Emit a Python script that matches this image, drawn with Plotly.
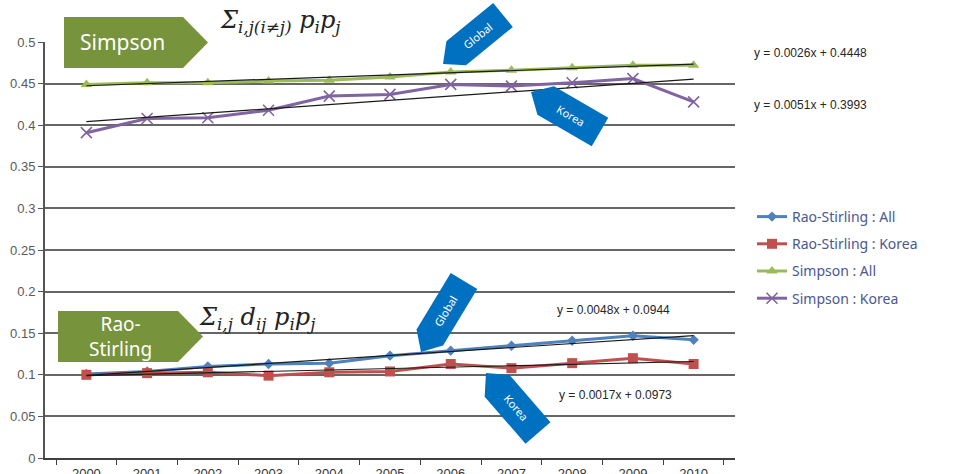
import math
import plotly.graph_objects as go

# ---------------- data ----------------
years = [str(y) for y in range(2000, 2011)]
rao_all = [0.101, 0.104, 0.110, 0.113, 0.114, 0.123, 0.129, 0.135, 0.141, 0.147, 0.142]
rao_korea = [0.100, 0.102, 0.103, 0.099, 0.103, 0.104, 0.113, 0.108, 0.114, 0.120, 0.113]
simpson_all = [0.449, 0.451, 0.451, 0.453, 0.454, 0.458, 0.464, 0.466, 0.469, 0.472, 0.472]
simpson_korea = [0.391, 0.408, 0.409, 0.418, 0.435, 0.437, 0.449, 0.447, 0.451, 0.456, 0.428]

series_names = ["Rao-Stirling : All", "Rao-Stirling : Korea", "Simpson : All", "Simpson : Korea"]
trend_slope = [0.0048, 0.0017, 0.0026, 0.0051]
trend_icept = [0.0944, 0.0973, 0.4448, 0.3993]
trend_labels = ["y = 0.0048x + 0.0944", "y = 0.0017x + 0.0973",
                "y = 0.0026x + 0.4448", "y = 0.0051x + 0.3993"]
y_ticks = [0, 0.05, 0.1, 0.15, 0.2, 0.25, 0.3, 0.35, 0.4, 0.45, 0.5]
y_ticklabels = ["0", "0.05", "0.1", "0.15", "0.2", "0.25", "0.3", "0.35", "0.4", "0.45", "0.5"]

# ---------------- layout geometry (pixels) ----------------
W, H = 959, 474
L, R, T, B = 45, 735, 42, 458


def px(x, y):
    return (x - L) / (R - L), (B - y) / (B - T)


colors = ["#4F81BD", "#C0504D", "#9BBB59", "#8064A2"]
symbols = ["diamond", "square", "triangle-up", "x-thin"]
msizes = [8, 10, 10, 11]
values = [rao_all, rao_korea, simpson_all, simpson_korea]

fig = go.Figure()
for i in range(4):
    mk = dict(symbol=symbols[i], size=msizes[i], color=colors[i])
    if symbols[i] == "x-thin":
        mk["line"] = dict(color=colors[i], width=1.6)
    fig.add_trace(go.Scatter(
        x=years, y=values[i], mode="lines+markers", name=series_names[i],
        line=dict(color=colors[i], width=3), marker=mk,
        legendgroup=str(i)))

for i in range(4):
    ty = [trend_slope[i] * (k + 1) + trend_icept[i] for k in range(len(years))]
    fig.add_trace(go.Scatter(x=years, y=ty, mode="lines", showlegend=False,
                             line=dict(color="#1a1a1a", width=1.2), hoverinfo="skip"))

shapes = []
annotations = []


def pent_right(x0, y0, x1, y1, tip):
    ym = (y0 + y1) / 2
    return [(x0, y0), (x1, y0), (x1 + tip, ym), (x1, y1), (x0, y1)]


def arrow(tail, tipp, width, tiplen):
    tx, ty = tail
    hx, hy = tipp
    dx, dy = hx - tx, hy - ty
    ln = math.hypot(dx, dy)
    ux, uy = dx / ln, dy / ln
    nx, ny = -uy, ux
    w = width / 2
    bx, by = hx - ux * tiplen, hy - uy * tiplen
    pts = [(tx + nx * w, ty + ny * w), (bx + nx * w, by + ny * w), (hx, hy),
           (bx - nx * w, by - ny * w), (tx - nx * w, ty - ny * w)]
    ang = math.degrees(math.atan2(-dy, -dx))
    cx = tx + dx * 0.42
    cy = ty + dy * 0.42
    return pts, ang, (cx, cy)


def path_of(pts):
    s = ""
    for k, (x, y) in enumerate(pts):
        xp, yp = px(x, y)
        s += ("M" if k == 0 else "L") + f"{xp:.5f},{yp:.5f} "
    return s + "Z"


green = "#77933C"
blue = "#0070C0"

# green pentagons
for pts, txt, c, fs in [
    (pent_right(64, 17, 183, 68, 25), "Simpson", (122, 42), 21),
    (pent_right(58, 311, 178, 362, 25), "Rao-<br>Stirling", (120, 336), 19),
]:
    shapes.append(dict(type="path", xref="paper", yref="paper", path=path_of(pts),
                       fillcolor=green, line=dict(width=0), layer="above"))
    xp, yp = px(*c)
    annotations.append(dict(xref="paper", yref="paper", x=xp, y=yp, text=txt,
                            showarrow=False, font=dict(family="Noto Sans", size=fs, color="white"),
                            xanchor="center", yanchor="middle"))

# blue arrows
for tail, tipp, wd, txt in [
    ((503, 15), (443, 64), 31, "Global"),
    ((600, 132), (531, 92), 33, "Korea"),
    ((464, 281), (421, 352), 31, "Global"),
    ((538, 433), (486, 373), 33, "Korea"),
]:
    pts, ang, c = arrow(tail, tipp, wd, 17)
    shapes.append(dict(type="path", xref="paper", yref="paper", path=path_of(pts),
                       fillcolor=blue, line=dict(width=0), layer="above"))
    xp, yp = px(*c)
    annotations.append(dict(xref="paper", yref="paper", x=xp, y=yp, text=txt,
                            showarrow=False, textangle=ang,
                            font=dict(family="Noto Sans", size=11, color="white"),
                            xanchor="center", yanchor="middle"))

# formulas
for c, txt, fs in [
    ((280, 22), "<i>Σ<sub>i,j(i≠j)</sub> p<sub>i</sub>p<sub>j</sub></i>", 24),
    ((257, 318), "<i>Σ<sub>i,j</sub> d<sub>ij</sub> p<sub>i</sub>p<sub>j</sub></i>", 24),
]:
    xp, yp = px(*c)
    annotations.append(dict(xref="paper", yref="paper", x=xp, y=yp, text=txt,
                            showarrow=False, xanchor="center", yanchor="middle",
                            font=dict(family="DejaVu Serif", size=fs, color="#222")))

# trendline equations
for pos, txt in zip([(555, 310), (557, 395), (752, 53), (752, 105)], trend_labels):
    xp, yp = px(*pos)
    annotations.append(dict(xref="paper", yref="paper", x=xp, y=yp, text=txt,
                            showarrow=False, xanchor="left", yanchor="middle",
                            font=dict(family="Liberation Sans", size=12, color="#262626")))

lx, ly = px(752, 201)
fig.update_layout(
    width=W, height=H,
    margin=dict(l=L, r=W - R, t=T, b=H - B, autoexpand=False),
    paper_bgcolor="white", plot_bgcolor="white",
    shapes=shapes, annotations=annotations,
    showlegend=True,
    legend=dict(x=lx, y=ly, xanchor="left", yanchor="top", bgcolor="rgba(0,0,0,0)",
                font=dict(family="Noto Sans", size=14, color="#4a5891"),
                itemwidth=30, tracegroupgap=6, traceorder="grouped"),
    xaxis=dict(type="category", tickson="boundaries", ticks="outside", ticklen=5,
               tickcolor="#404040", showline=True, linecolor="#404040", linewidth=2,
               showgrid=False, tickfont=dict(family="Liberation Sans", size=13, color="#333"),
               ticklabelstandoff=2, automargin=False, fixedrange=True),
    yaxis=dict(range=[0, 0.5], tickvals=y_ticks, ticktext=y_ticklabels,
               ticks="outside", ticklen=5, tickcolor="#555",
               showline=True, linecolor="#555", linewidth=2, automargin=False,
               showgrid=True, gridcolor="#666666", gridwidth=2, zeroline=False,
               tickfont=dict(family="Liberation Sans", size=13, color="#595959")),
)

fig.write_html("out.html")
